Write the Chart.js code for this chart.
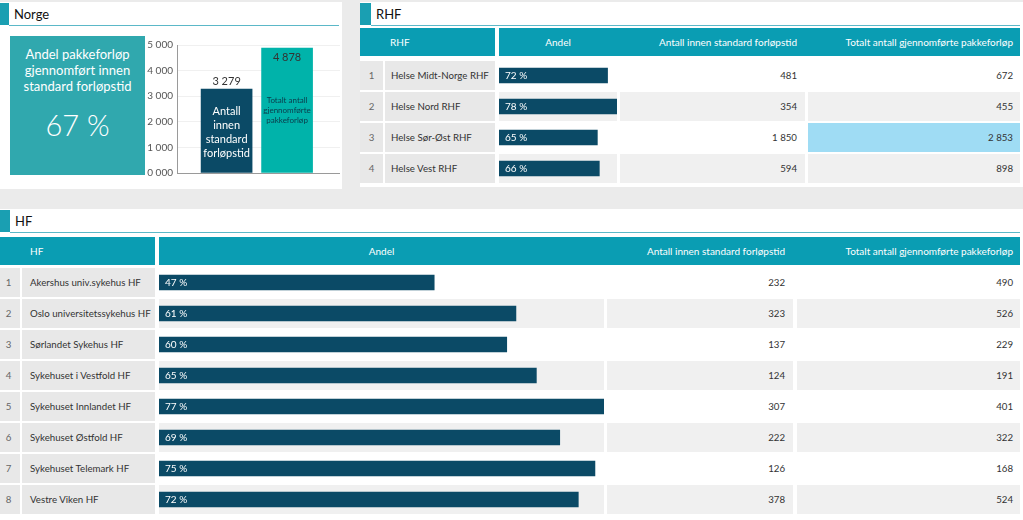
<!DOCTYPE html>
<html><head><meta charset="utf-8">
<script src="https://cdn.jsdelivr.net/npm/chart.js@4.4.1/dist/chart.umd.min.js"></script>
<style>
html,body{margin:0;padding:0;}
body{width:1023px;height:520px;background:#ebebeb;position:relative;overflow:hidden;font-family:Lato,"Open Sans",sans-serif;color:#333;}
.a{position:absolute;box-sizing:border-box;}
.panel{position:absolute;background:#fff;}
.sq{position:absolute;background:#1a9fb2;}
.ttl{position:absolute;font-size:13px;color:#111;line-height:22px;}
.ul{position:absolute;height:1px;background:#5bb8c8;}
.hd{position:absolute;background:#0a9db3;color:#fff;font-size:10px;line-height:28px;white-space:nowrap;box-sizing:border-box;}
.cell{position:absolute;font-size:9.7px;line-height:29px;white-space:nowrap;box-sizing:border-box;}
canvas{display:block;}
</style></head>
<body>
<script>
// ---------- DATA ----------
const norgeCategories = ['Antall innen standard forløpstid', 'Totalt antall gjennomførte pakkeforløp'];
const norgeValues = [3279, 4878];
const norgeTickLabels = ['0 000', '1 000', '2 000', '3 000', '4 000', '5 000'];
const norgeBoxTitle = 'Andel pakkeforløp gjennomført innen standard forløpstid';

const rhfNames = ['Helse Midt-Norge RHF', 'Helse Nord RHF', 'Helse Sør-Øst RHF', 'Helse Vest RHF'];
const rhfWithin = [481, 354, 1850, 594];
const rhfTotal = [672, 455, 2853, 898];

const hfNames = ['Akershus univ.sykehus HF', 'Oslo universitetssykehus HF', 'Sørlandet Sykehus HF', 'Sykehuset i Vestfold HF', 'Sykehuset Innlandet HF', 'Sykehuset Østfold HF', 'Sykehuset Telemark HF', 'Vestre Viken HF'];
const hfWithin = [232, 323, 137, 124, 307, 222, 126, 378];
const hfTotal = [490, 526, 229, 191, 401, 322, 168, 524];

const headAndel = 'Andel';
const headWithin = 'Antall innen standard forløpstid';
const headTotal = 'Totalt antall gjennomførte pakkeforløp';

// Andel (share within standard time, %) derived from the counts above
const rhfAndel = rhfWithin.map((v, i) => 100 * v / rhfTotal[i]);
const hfAndel = hfWithin.map((v, i) => 100 * v / hfTotal[i]);

// ---------- helpers ----------
const FONT = 'Lato, "Open Sans", sans-serif';
const fmt = v => String(v).replace(/\B(?=(\d{3})+(?!\d))/g, ' ');
function el(cls, css, text) {
  const d = document.createElement('div');
  d.className = cls;
  Object.assign(d.style, css);
  if (text !== undefined) d.textContent = text;
  document.body.appendChild(d);
  return d;
}
function px(o) { const r = {}; for (const k in o) r[k] = typeof o[k] === 'number' ? o[k] + 'px' : o[k]; return r; }

function panel(x, y, w, h, title, sqW) {
  el('panel', px({left: x, top: y, width: w, height: h}));
  el('sq', px({left: x, top: y + 1, width: sqW, height: 22}));
  el('ttl', px({left: x + sqW + 5, top: y + 1}), title);
  el('ul', px({left: x + sqW, top: y + 23, width: w - sqW - 3}));
}

// ---------- panels ----------
panel(0, 2, 342, 187, 'Norge', 9);
panel(360, 2, 663, 185, 'RHF', 11);
panel(0, 209, 1023, 311, 'HF', 10);

// Norge big box
const pct = Math.round(100 * norgeValues[0] / norgeValues[1]);
const box = el('a', px({left: 10, top: 36, width: 135, height: 139, background: '#30a8ae', color: '#fff', textAlign: 'center'}));
box.innerHTML = '<div style="font-size:13px;line-height:16px;padding:10px 4px 0">' + norgeBoxTitle + '</div>' +
  '<div style="font-size:29px;line-height:34px;margin-top:14px;font-weight:300">' + pct + ' %</div>';

// ---------- tables ----------
function table(t) {
  el('hd', px({left: t.num.x, top: t.hy, width: t.name.x + t.name.w - t.num.x, height: 28, paddingLeft: 30}), t.title);
  el('hd', px({left: t.andel.x, top: t.hy, width: t.total.x + t.total.w - t.andel.x, height: 28}));
  el('hd', px({left: t.andel.x, top: t.hy, width: t.andel.w, height: 28, textAlign: 'center', background: 'transparent'}), headAndel);
  el('hd', px({left: t.within.x, top: t.hy, width: t.within.w, height: 28, paddingRight: 8, textAlign: 'right', background: 'transparent'}), headWithin);
  el('hd', px({left: t.total.x, top: t.hy, width: t.total.w, height: 28, paddingRight: 7, textAlign: 'right', background: 'transparent'}), headTotal);
  t.names.forEach((n, i) => {
    const y = t.y0 + i * t.pitch;
    const alt = i % 2 === 1 ? '#f0f0f0' : '#ffffff';
    el('cell', px({left: t.num.x, top: y, width: t.num.w, height: 29, background: '#e8e8e8', color: '#666', textAlign: 'center', paddingRight: t.numPadR}), String(i + 1));
    el('cell', px({left: t.name.x, top: y, width: t.name.w, height: 29, background: '#e8e8e8', paddingLeft: t.namePad}), n);
    el('cell', px({left: t.andel.x, top: y, width: t.andel.w, height: 29, background: alt}));
    el('cell', px({left: t.within.x, top: y, width: t.within.w, height: 29, background: alt, textAlign: 'right', paddingRight: 8}), fmt(t.within_[i]));
    const hl = t.highlight === i ? '#9fdcf4' : alt;
    el('cell', px({left: t.total.x, top: y, width: t.total.w, height: 29, background: hl, textAlign: 'right', paddingRight: 7}), fmt(t.total_[i]));
  });
  const wrap = el('a', px({left: t.andel.x, top: t.y0 - 1, width: t.andel.w, height: t.pitch * t.names.length}));
  const cv = document.createElement('canvas');
  wrap.appendChild(cv);
  return cv;
}
const rhfCanvas = table({
  title: 'RHF', hy: 28, y0: 61, pitch: 31, namePad: 6, numPadR: 0,
  num: {x: 360, w: 23}, name: {x: 385, w: 110}, andel: {x: 499, w: 118},
  within: {x: 620, w: 185}, total: {x: 808, w: 212},
  names: rhfNames, within_: rhfWithin, total_: rhfTotal, highlight: 2
});
const hfCanvas = table({
  title: 'HF', hy: 237, y0: 268, pitch: 31, namePad: 8, numPadR: 3,
  num: {x: 0, w: 20}, name: {x: 22, w: 133}, andel: {x: 159, w: 445},
  within: {x: 607, w: 186}, total: {x: 797, w: 223},
  names: hfNames, within_: hfWithin, total_: hfTotal, highlight: -1
});

// ---------- charts ----------
const barLabelPlugin = {
  id: 'pctLabels',
  afterDatasetsDraw(chart) {
    const ctx = chart.ctx;
    const meta = chart.getDatasetMeta(0);
    ctx.save();
    ctx.fillStyle = '#ffffff';
    ctx.font = '10px ' + FONT;
    ctx.textBaseline = 'middle';
    ctx.textAlign = 'left';
    meta.data.forEach((bar, i) => {
      ctx.fillText(Math.round(chart.data.datasets[0].data[i]) + ' %', bar.base + 6, bar.y + 0.5);
    });
    ctx.restore();
  }
};
function andelChart(canvas, names, values) {
  return new Chart(canvas, {
    type: 'bar',
    data: {labels: names, datasets: [{data: values, backgroundColor: '#0b4a66', barThickness: 15}]},
    options: {
      indexAxis: 'y', responsive: true, maintainAspectRatio: false, animation: false,
      layout: {padding: 0},
      plugins: {legend: {display: false}, tooltip: {enabled: false}},
      scales: {
        x: {display: false, min: 0, max: Math.max(...values)},
        y: {display: false}
      }
    },
    plugins: [barLabelPlugin]
  });
}
andelChart(rhfCanvas, rhfNames, rhfAndel);
andelChart(hfCanvas, hfNames, hfAndel);

// Norge column chart
const nWrap = el('a', px({left: 136, top: 30, width: 206, height: 153}));
const nCv = document.createElement('canvas');
nWrap.appendChild(nCv);
const norgeLabelPlugin = {
  id: 'norgeLabels',
  afterDatasetsDraw(chart) {
    const ctx = chart.ctx;
    const meta = chart.getDatasetMeta(0);
    const ds = chart.data.datasets[0];
    ctx.save();
    ctx.textAlign = 'center';
    ctx.textBaseline = 'middle';
    meta.data.forEach((bar, i) => {
      ctx.font = '11px ' + FONT;
      ctx.fillStyle = '#333';
      let vy = bar.y - 8;
      if (vy - 6 < chart.chartArea.top) vy = bar.y + 9;
      ctx.fillText(fmt(ds.data[i].y), bar.x, vy);
      const st = ds.innerLabel[i];
      ctx.font = st.size + 'px ' + FONT;
      ctx.fillStyle = st.color;
      const maxW = bar.width - 3;
      const words = norgeCategories[i].split(' ');
      const lines = [];
      let cur = '';
      words.forEach(w => {
        const test = cur ? cur + ' ' + w : w;
        if (ctx.measureText(test).width > maxW && cur) { lines.push(cur); cur = w; } else cur = test;
      });
      if (cur) lines.push(cur);
      const cy = (bar.y + bar.base) / 2 + st.shift;
      lines.forEach((l, k) => ctx.fillText(l, bar.x, cy + (k - (lines.length - 1) / 2) * st.lh));
    });
    ctx.restore();
  }
};
new Chart(nCv, {
  type: 'bar',
  data: {
    datasets: [{
      data: norgeValues.map((v, i) => ({x: i, y: v})),
      backgroundColor: ['#0b4a66', '#00b3aa'],
      barThickness: 51,
      innerLabel: [{color: '#ffffff', size: 11, lh: 14, shift: 2}, {color: '#0b3a4a', size: 8, lh: 10, shift: 0}]
    }]
  },
  options: {
    responsive: true, maintainAspectRatio: false, animation: false,
    layout: {padding: {top: 15, bottom: 5, right: 2, left: 0}},
    plugins: {legend: {display: false}, tooltip: {enabled: false}},
    scales: {
      x: {type: 'linear', display: false, offset: false, bounds: 'data', min: -0.82, max: 1.875, grid: {offset: false}},
      y: {
        min: 0, max: 5000,
        afterFit(s) { s.width = 41; },
        border: {display: true, color: '#9a9a9a'},
        grid: {drawTicks: false, color: c => c.tick && c.tick.value === 0 ? '#9a9a9a' : '#f0f0f0'},
        ticks: {stepSize: 1000, padding: 4, color: '#555', font: {size: 10, family: FONT},
          callback: (v, i) => norgeTickLabels[i]}
      }
    }
  },
  plugins: [norgeLabelPlugin]
});
</script>
</body></html>
